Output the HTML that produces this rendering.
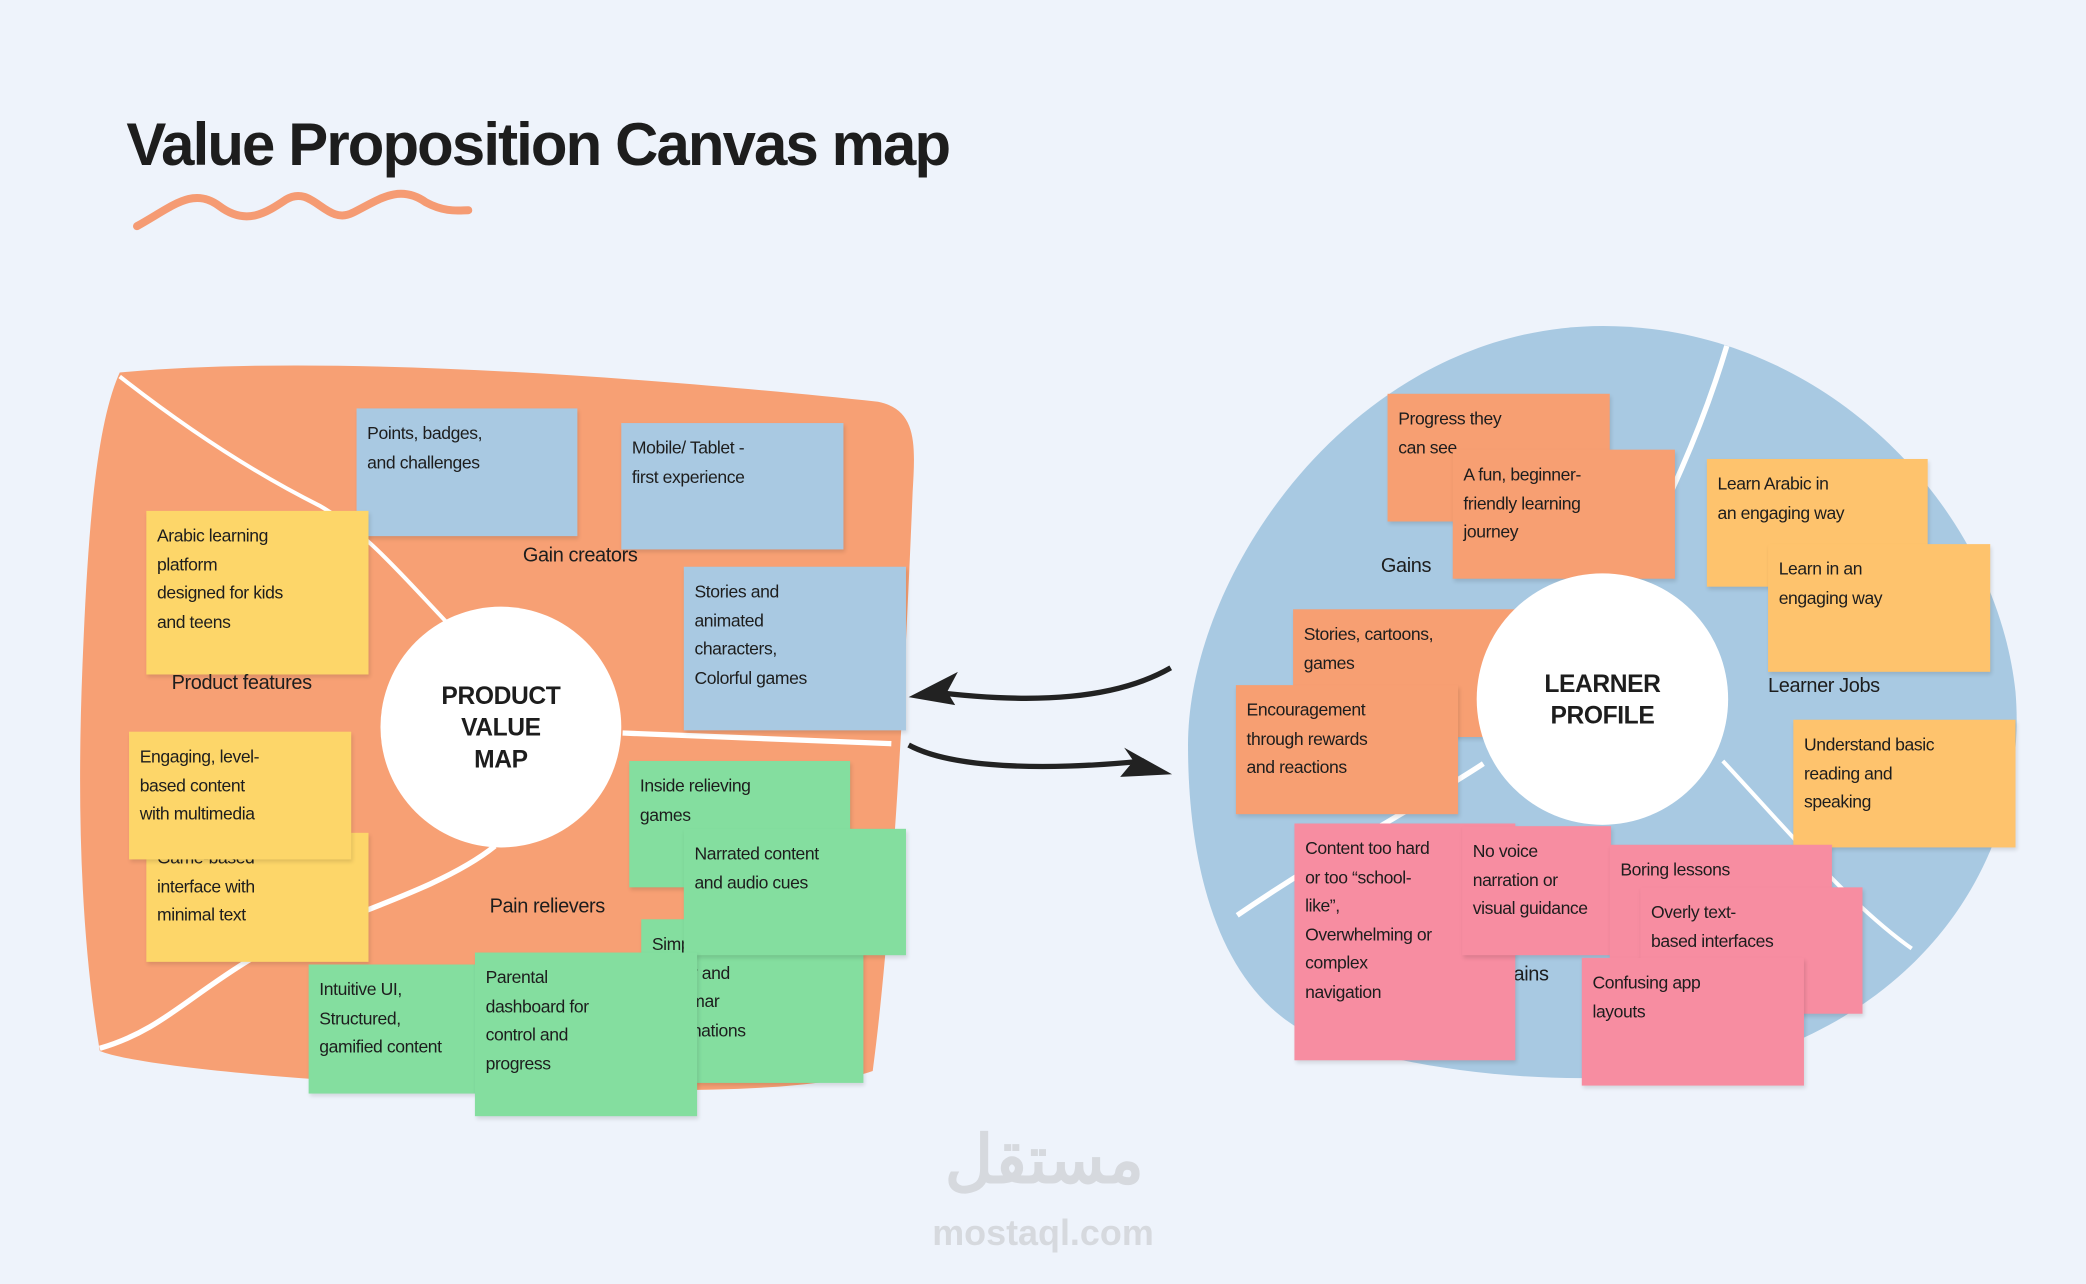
<!DOCTYPE html>
<html><head><meta charset="utf-8"><style>
html,body{margin:0;padding:0;background:#EEF3FB;overflow:hidden}
#w{position:absolute;left:0;top:0;width:1568px;height:965px;transform:scale(1.33036);transform-origin:0 0;font-family:"Liberation Sans",sans-serif;color:#1d1d1d}
.n{position:absolute;box-sizing:border-box;padding:8px 8px;font-size:13.2px;line-height:21.5px;letter-spacing:-0.3px;box-shadow:1px 2px 3px rgba(0,0,0,0.12);overflow:hidden}
.b{background:#A9C9E2}.y{background:#FDD669}.g{background:#84DE9F}.o{background:#F79F72}.j{background:#FEC36D}.p{background:#F78DA1}
.l{position:absolute;font-size:15px;letter-spacing:-0.3px;white-space:nowrap}
.c{position:absolute;border-radius:50%;background:#fff;display:flex;align-items:center;justify-content:center;text-align:center;font-weight:bold;font-size:18.5px;line-height:24px;letter-spacing:-0.3px}
svg{position:absolute;left:0;top:0}
</style></head><body><div id="w">
<div style="position:absolute;left:95px;top:83px;font-size:45px;font-weight:bold;letter-spacing:-1.4px;white-space:nowrap">Value Proposition Canvas map</div>
<svg width="1568" height="965">
<path d="M103 170 C130 155,145 140,165 155 C185 170,200 160,215 150 C235 138,245 170,265 160 C285 150,300 138,320 152 C335 160,345 158,352 158" stroke="#F59B73" stroke-width="6" fill="none" stroke-linecap="round"/>
<path d="M90 280 C250 265,500 285,660 302 C690 308,688 335,686 370 C680 520,670 700,656 805 C600 825,450 820,300 815 C200 810,100 800,75 790 C60 700,58 600,62 500 C66 400,72 320,90 280 Z" fill="#F7A074"/>
<path d="M90 283 C150 330,200 360,240 380 C275 400,300 430,336 468" stroke="#fff" stroke-width="3" fill="none"/>
<path d="M468 551 C530 553,600 556,670 559" stroke="#fff" stroke-width="4" fill="none"/>
<path d="M372 636 C330 670,250 690,190 720 C140 750,120 775,75 788" stroke="#fff" stroke-width="4" fill="none"/>
<path d="M1205 245 C1370 245,1500 380,1515 520 C1525 640,1450 760,1300 800 C1200 820,1080 810,990 780 C920 750,893 660,893 560 C893 430,1020 245,1205 245 Z" fill="#A8C9E2"/>
<path d="M1298 260 C1280 320,1250 390,1222 432" stroke="#fff" stroke-width="4" fill="none"/>
<path d="M1115 574 C1060 610,1000 640,930 688" stroke="#fff" stroke-width="4" fill="none"/>
<path d="M1295 572 C1340 620,1390 680,1437 713" stroke="#fff" stroke-width="3" fill="none"/>
<path d="M880 502 C840 525,780 530,700 520" stroke="#222" stroke-width="4" fill="none"/>
<path d="M683 524 L720 505 L712 520 L718 530 Z" fill="#222"/>
<path d="M683 560 C720 580,800 578,860 572" stroke="#222" stroke-width="4" fill="none"/>
<path d="M881 582 L845 562 L852 572 L842 584 Z" fill="#222"/>
</svg>
<div class="n b" style="left:268px;top:307px;width:166px;height:96px">Points, badges,<br>and challenges</div>
<div class="n b" style="left:467px;top:318px;width:167px;height:95px">Mobile/ Tablet -<br>first experience</div>
<div class="n y" style="left:110px;top:384px;width:167px;height:123px">Arabic learning<br>platform<br>designed for kids<br>and teens</div>
<div class="n b" style="left:514px;top:426px;width:167px;height:123px">Stories and<br>animated<br>characters,<br>Colorful games</div>
<div class="n y" style="left:110px;top:626px;width:167px;height:97px;padding-top:8px">Game-based<br>interface with<br>minimal text</div>
<div class="n y" style="left:97px;top:550px;width:167px;height:96px">Engaging, level-<br>based content<br>with multimedia</div>
<div class="n g" style="left:473px;top:572px;width:166px;height:95px">Inside relieving<br>games</div>
<div class="n g" style="left:482px;top:691px;width:167px;height:123px">Simple voca-<br>bulary and<br>grammar<br>explanations</div>
<div class="n g" style="left:514px;top:623px;width:167px;height:95px">Narrated content<br>and audio cues</div>
<div class="n g" style="left:232px;top:725px;width:145px;height:97px;white-space:nowrap">Intuitive UI,<br>Structured,<br>gamified content</div>
<div class="n g" style="left:357px;top:716px;width:167px;height:123px">Parental<br>dashboard for<br>control and<br>progress</div>
<div class="l" style="left:393px;top:409px">Gain creators</div>
<div class="l" style="left:129px;top:505px">Product features</div>
<div class="l" style="left:368px;top:673px">Pain relievers</div>
<div class="c" style="left:286px;top:456px;width:181px;height:181px">PRODUCT<br>VALUE<br>MAP</div>

<div class="l" style="left:1038px;top:417px">Gains</div>
<div class="l" style="left:1329px;top:507px">Learner Jobs</div>
<div class="l" style="left:1128px;top:724px">Pains</div>
<div class="n o" style="left:1043px;top:296px;width:167px;height:96px">Progress they<br>can see</div>
<div class="n o" style="left:1092px;top:338px;width:167px;height:97px">A fun, beginner-<br>friendly learning<br>journey</div>
<div class="n j" style="left:1283px;top:345px;width:166px;height:96px">Learn Arabic in<br>an engaging way</div>
<div class="n j" style="left:1329px;top:409px;width:167px;height:96px">Learn in an<br>engaging way</div>
<div class="n o" style="left:972px;top:458px;width:167px;height:96px">Stories, cartoons,<br>games</div>
<div class="n o" style="left:929px;top:515px;width:167px;height:97px">Encouragement<br>through rewards<br>and reactions</div>
<div class="n j" style="left:1348px;top:541px;width:167px;height:96px">Understand basic<br>reading and<br>speaking</div>
<div class="c" style="left:1110px;top:431px;width:189px;height:189px">LEARNER<br>PROFILE</div>
<div class="n p" style="left:973px;top:619px;width:166px;height:178px;white-space:nowrap">Content too hard<br>or too “school-<br>like”,<br>Overwhelming or<br>complex<br>navigation</div>
<div class="n p" style="left:1099px;top:621px;width:112px;height:97px;white-space:nowrap">No voice<br>narration or<br>visual guidance</div>
<div class="n p" style="left:1210px;top:635px;width:167px;height:96px">Boring lessons</div>
<div class="n p" style="left:1233px;top:667px;width:167px;height:95px">Overly text-<br>based interfaces</div>
<div class="n p" style="left:1189px;top:720px;width:167px;height:96px">Confusing app<br>layouts</div>

<div style="position:absolute;left:690px;top:845px;width:190px;text-align:center;color:#D6D9DE;font-weight:bold;font-family:'Liberation Sans','Noto Sans CJK SC',sans-serif;font-size:50px;line-height:55px">مستقل</div>
<div style="position:absolute;left:688px;top:912px;width:192px;text-align:center;color:#D6D9DE;font-weight:bold;font-size:27px">mostaql.com</div>
</div></body></html>
